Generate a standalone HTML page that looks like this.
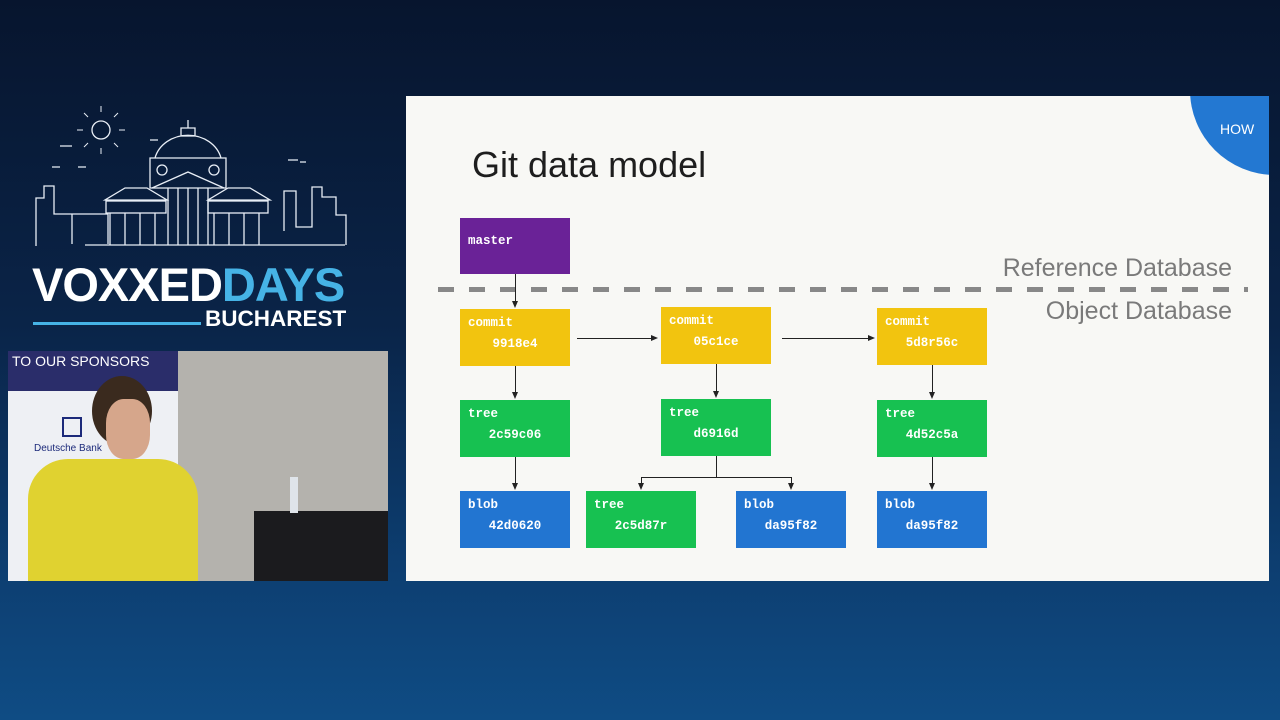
<!DOCTYPE html>
<html><head><meta charset="utf-8"><style>
*{margin:0;padding:0;box-sizing:border-box}
body{width:1280px;height:720px;overflow:hidden;position:relative;font-family:"Liberation Sans",sans-serif;
background:linear-gradient(180deg,#07152e 0%,#0a2448 45%,#0d3f72 80%,#0f4c84 100%)}
.abs{position:absolute}
#slide{left:406px;top:96px;width:863px;height:485px;background:#f8f8f5;overflow:hidden}
.box{position:absolute;width:110px;height:57px;color:#fff;font-family:"Liberation Mono",monospace;font-size:12.5px;font-weight:bold}
.box .l{position:absolute;left:8px;top:7px}
.box .h{position:absolute;left:0;right:0;top:28px;text-align:center}
.y{background:#f2c40f}.g{background:#17c151}.b{background:#2275d1}.p{background:#6a2297}
.vl{position:absolute;width:1px;background:#222}
.hl{position:absolute;height:1px;background:#222}
.ad{position:absolute;width:0;height:0;border-left:3.5px solid transparent;border-right:3.5px solid transparent;border-top:7px solid #222}
.ar{position:absolute;width:0;height:0;border-top:3.5px solid transparent;border-bottom:3.5px solid transparent;border-left:7px solid #222}
</style></head><body>

<svg class="abs" style="left:0;top:100px" width="400" height="240" viewBox="0 100 400 240" fill="none" stroke="#e8eef6" stroke-width="1.3">
<circle cx="101" cy="130" r="9"/>
<g stroke-width="1"><path d="M101 112v-6M101 148v6M83 130h-6M119 130h6M88 117l-4-4M114 117l4-4M88 143l-4 4M114 143l4 4"/></g>
<path d="M60 146h12M150 140h8M288 160h10M300 162h6M52 167h8M78 167h8"/>
<path d="M36 246v-48h8v-12h10v28h18v30M72 214h36v30"/>
<path d="M85 245h260M346 245v-30h-10v-18h-14v-10h-10v40h-16v-36h-12v40"/>
<path d="M105 200h62l-20-12h-22zM208 200h62l-20-12h-22z"/>
<rect x="106" y="201" width="60" height="12"/><rect x="208" y="201" width="60" height="12"/>
<path d="M110 213v32M125 213v32M140 213v32M155 213v32M214 213v32M229 213v32M244 213v32M259 213v32"/>
<path d="M150 188h76v-30h-76zM155 158a34 30 0 0 1 66 0M188 128v-8M181 136h14v-8h-14z"/>
<path d="M152 188l36-16 36 16"/>
<path d="M168 188v57M178 188v57M188 188v57M198 188v57M208 188v57"/>
<circle cx="162" cy="170" r="5"/><circle cx="214" cy="170" r="5"/>
</svg>
<div class="abs" style="left:32px;top:262px;font-size:47px;font-weight:bold;color:#fff;letter-spacing:-1px;line-height:46px">VOXXED<span style="color:#46b3e6">DAYS</span></div>
<div class="abs" style="left:33px;top:322px;width:168px;height:3px;background:#46b3e6"></div>
<div class="abs" style="left:205px;top:306px;font-size:22.5px;font-weight:bold;color:#fff;line-height:25px">BUCHAREST</div>

<div class="abs" style="left:8px;top:351px;width:380px;height:230px;background:#b4b2ad;overflow:hidden">
  <div class="abs" style="left:0;top:0;width:170px;height:230px;background:#eef0f4"></div>
  <div class="abs" style="left:0;top:0;width:170px;height:40px;background:#2a2d6a"></div>
  <div class="abs" style="left:4px;top:2px;color:#fff;font-size:14px">TO OUR SPONSORS</div>
  <div class="abs" style="left:54px;top:66px;width:20px;height:20px;border:2px solid #1c2a7a"></div>
  <div class="abs" style="left:26px;top:92px;font-size:10px;color:#1c2a7a">Deutsche Bank</div>
  <div class="abs" style="left:84px;top:25px;width:60px;height:70px;border-radius:50%;background:#3a2a1e"></div>
  <div class="abs" style="left:98px;top:48px;width:44px;height:60px;border-radius:40%;background:#d6a68b"></div>
  <div class="abs" style="left:20px;top:108px;width:170px;height:130px;border-radius:40px 40px 0 0;background:#e0d230"></div>
  <div class="abs" style="left:246px;top:160px;width:134px;height:70px;background:#1b1b1e"></div>
  <div class="abs" style="left:282px;top:126px;width:8px;height:36px;background:#dfe4ea"></div>
</div>

<div id="slide" class="abs">
  <div class="abs" style="left:784px;top:-91px;width:170px;height:170px;border-radius:50%;background:#2378d2"></div>
  <div class="abs" style="left:814px;top:25px;color:#fff;font-size:14px">HOW</div>
  <div class="abs" style="left:66px;top:48px;font-size:36px;color:#1e1e1e">Git data model</div>
  <div class="abs" style="right:37px;top:158px;font-size:25px;color:#7a7a7a">Reference Database</div>
  <div class="abs" style="right:37px;top:201px;font-size:25px;color:#7a7a7a">Object Database</div>
  <div class="abs" style="left:32px;top:191px;width:810px;height:5px;background:repeating-linear-gradient(90deg,#888 0 16px,transparent 16px 31px)"></div>
</div>

<div class="box p" style="left:460px;top:218px;height:56px"><span class="l" style="top:16px">master</span></div>
<div class="box y" style="left:460px;top:309px"><span class="l">commit</span><span class="h">9918e4</span></div>
<div class="box y" style="left:661px;top:307px"><span class="l">commit</span><span class="h">05c1ce</span></div>
<div class="box y" style="left:877px;top:308px"><span class="l">commit</span><span class="h">5d8r56c</span></div>
<div class="box g" style="left:460px;top:400px"><span class="l">tree</span><span class="h">2c59c06</span></div>
<div class="box g" style="left:661px;top:399px"><span class="l">tree</span><span class="h">d6916d</span></div>
<div class="box g" style="left:877px;top:400px"><span class="l">tree</span><span class="h">4d52c5a</span></div>
<div class="box b" style="left:460px;top:491px"><span class="l">blob</span><span class="h">42d0620</span></div>
<div class="box g" style="left:586px;top:491px"><span class="l">tree</span><span class="h">2c5d87r</span></div>
<div class="box b" style="left:736px;top:491px"><span class="l">blob</span><span class="h">da95f82</span></div>
<div class="box b" style="left:877px;top:491px"><span class="l">blob</span><span class="h">da95f82</span></div>

<div class="vl" style="left:515px;top:274px;height:28px"></div><div class="ad" style="left:512px;top:301px"></div>
<div class="vl" style="left:515px;top:366px;height:27px"></div><div class="ad" style="left:512px;top:392px"></div>
<div class="vl" style="left:515px;top:457px;height:27px"></div><div class="ad" style="left:512px;top:483px"></div>
<div class="vl" style="left:716px;top:364px;height:28px"></div><div class="ad" style="left:713px;top:391px"></div>
<div class="vl" style="left:932px;top:365px;height:28px"></div><div class="ad" style="left:929px;top:392px"></div>
<div class="vl" style="left:932px;top:457px;height:27px"></div><div class="ad" style="left:929px;top:483px"></div>
<div class="vl" style="left:716px;top:456px;height:21px"></div>
<div class="hl" style="left:641px;top:477px;width:151px"></div>
<div class="vl" style="left:641px;top:477px;height:7px"></div><div class="ad" style="left:638px;top:483px"></div>
<div class="vl" style="left:791px;top:477px;height:7px"></div><div class="ad" style="left:788px;top:483px"></div>
<div class="hl" style="left:577px;top:338px;width:75px"></div><div class="ar" style="left:651px;top:335px"></div>
<div class="hl" style="left:782px;top:338px;width:87px"></div><div class="ar" style="left:868px;top:335px"></div>
</body></html>
